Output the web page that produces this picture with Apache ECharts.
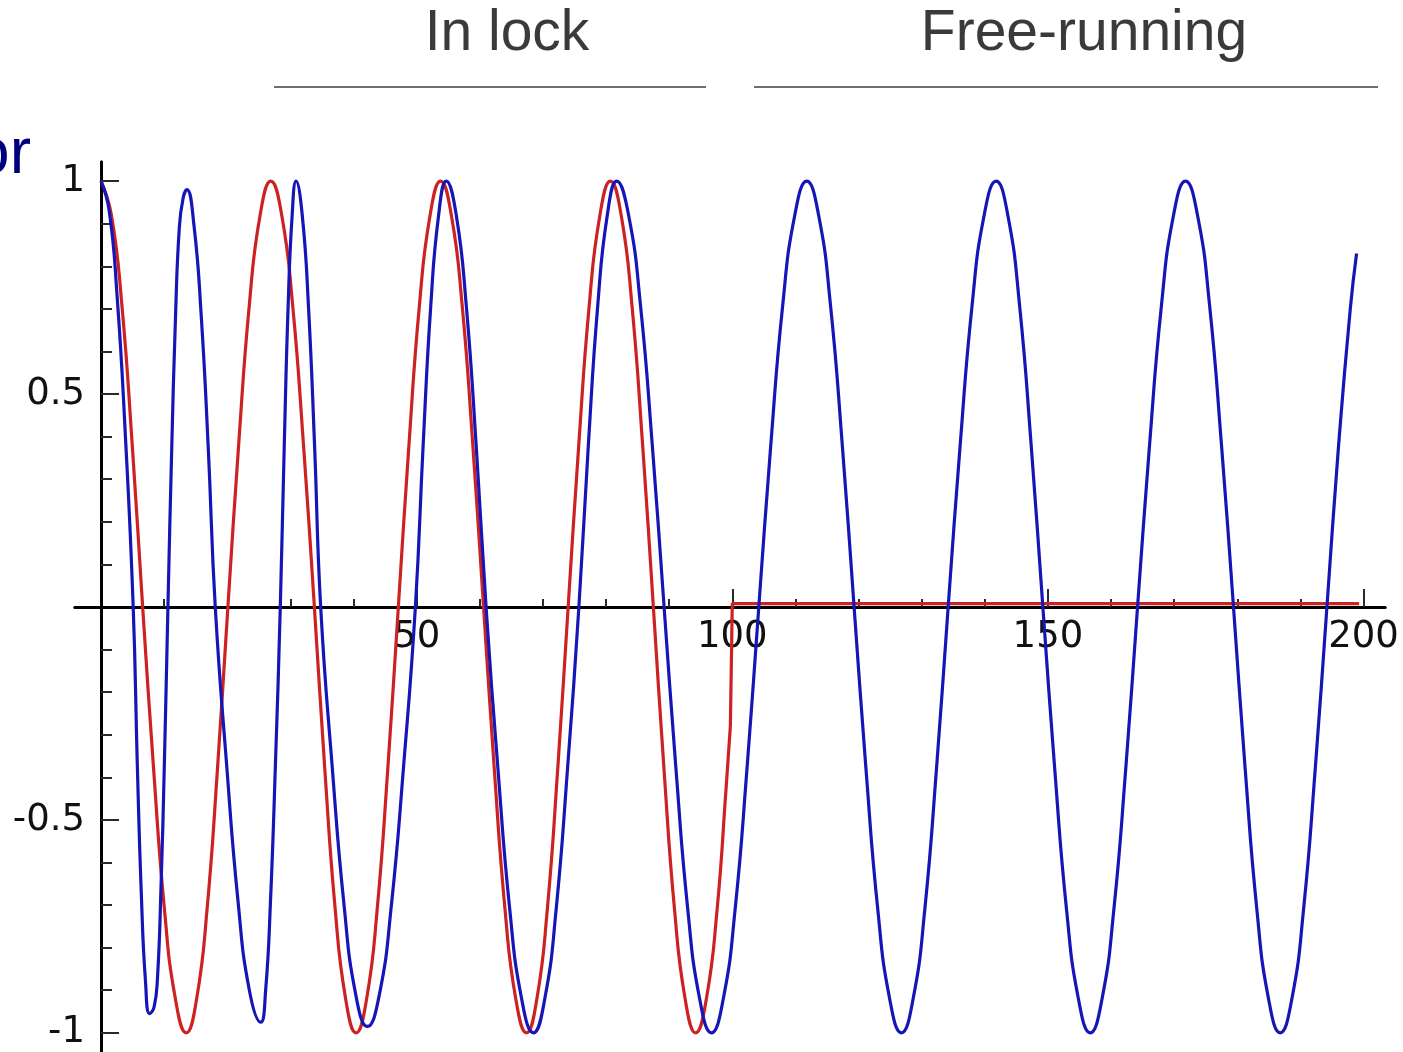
<!DOCTYPE html>
<html>
<head>
<meta charset="utf-8">
<script src="https://cdn.jsdelivr.net/npm/echarts@6/dist/echarts.min.js"></script>
<style>
  html, body { margin: 0; padding: 0; background: #ffffff; }
  #chart { width: 1403px; height: 1052px; }
</style>
</head>
<body>
<div id="chart"></div>
<script>
// Reference signal: oscillates while locked, then held at zero from t = 100
const referenceLocked = [
  [0, 1], [1.65, 0.92], [3.3, 0.71], [4.95, 0.38], [6.6, 0],
  [8.33, -0.38], [10.05, -0.71], [11.78, -0.92], [13.5, -1],
  [15.15, -0.92], [16.8, -0.71], [18.45, -0.38], [20.1, 0],
  [21.8, 0.38], [23.5, 0.71], [25.2, 0.92], [26.9, 1],
  [28.63, 0.92], [30.35, 0.71], [32.08, 0.38], [33.8, 0],
  [35.45, -0.38], [37.1, -0.71], [38.75, -0.92], [40.4, -1],
  [42.08, -0.92], [43.75, -0.71], [45.43, -0.38], [47.1, 0],
  [48.78, 0.38], [50.45, 0.71], [52.13, 0.92], [53.8, 1],
  [55.5, 0.92], [57.2, 0.71], [58.9, 0.38], [60.6, 0],
  [62.3, -0.38], [64.0, -0.71], [65.7, -0.92], [67.4, -1],
  [69.05, -0.92], [70.7, -0.71], [72.35, -0.38], [74.0, 0],
  [75.68, 0.38], [77.35, 0.71], [79.03, 0.92], [80.7, 1],
  [82.4, 0.92], [84.1, 0.71], [85.8, 0.38], [87.5, 0],
  [89.18, -0.38], [90.85, -0.71], [92.53, -0.92], [94.2, -1],
  [95.9, -0.92], [97.6, -0.71], [99.0, -0.43], [99.7, -0.28]
];
const referenceOff = [[99.7, -0.28], [100, 0.008], [199.3, 0.008]];

// Oscillator output: pulled into lock, then running at its own frequency
const oscillatorOutput = [
  [0, 1], [1.3, 0.93], [2.55, 0.73], [3.8, 0.42], [5.1, 0],
  [5.75, -0.37], [6.4, -0.68], [7.05, -0.88], [7.7, -0.955], [8.4, -0.94],
  [8.95, -0.87], [9.5, -0.66], [10.05, -0.36], [10.6, 0],
  [11.2, 0.37], [11.8, 0.68], [12.4, 0.89], [13.0, 0.96], [13.6, 0.98],
  [14.7, 0.9], [15.85, 0.69], [17.0, 0.37], [18.1, 0],
  [19.9, -0.37], [21.7, -0.69], [23.5, -0.9], [25.3, -0.975],
  [26.08, -0.9], [26.85, -0.69], [27.63, -0.37], [28.4, 0],
  [29.03, 0.38], [29.65, 0.71], [30.28, 0.92], [30.9, 1.0],
  [31.88, 0.92], [32.85, 0.71], [33.83, 0.38], [34.8, 0],
  [36.65, -0.38], [38.5, -0.7], [40.35, -0.91], [42.2, -0.985],
  [44.1, -0.91], [46.0, -0.7], [47.9, -0.38], [49.8, 0],
  [51.03, 0.38], [52.25, 0.71], [53.48, 0.92], [54.7, 1],
  [56.28, 0.92], [57.85, 0.71], [59.43, 0.38], [61.0, 0],
  [62.88, -0.38], [64.75, -0.71], [66.63, -0.92], [68.5, -1],
  [70.3, -0.92], [72.1, -0.71], [73.9, -0.38], [75.7, 0],
  [77.2, 0.38], [78.7, 0.71], [80.2, 0.92], [81.7, 1],
  [83.58, 0.92], [85.45, 0.71], [87.33, 0.38], [89.2, 0],
  [91.08, -0.38], [92.95, -0.71], [94.83, -0.92], [96.7, -1],
  [98.58, -0.92], [100.45, -0.71], [102.33, -0.38], [104.2, 0],
  [106.1, 0.38], [108.0, 0.71], [109.9, 0.92], [111.8, 1],
  [113.68, 0.92], [115.55, 0.71], [117.43, 0.38], [119.3, 0],
  [121.18, -0.38], [123.05, -0.71], [124.93, -0.92], [126.8, -1],
  [128.65, -0.92], [130.5, -0.71], [132.35, -0.38], [134.2, 0],
  [136.1, 0.38], [138.0, 0.71], [139.9, 0.92], [141.8, 1],
  [143.65, 0.92], [145.5, 0.71], [147.35, 0.38], [149.2, 0],
  [151.08, -0.38], [152.95, -0.71], [154.83, -0.92], [156.7, -1],
  [158.58, -0.92], [160.45, -0.71], [162.33, -0.38], [164.2, 0],
  [166.1, 0.38], [168.0, 0.71], [169.9, 0.92], [171.8, 1],
  [173.7, 0.92], [175.6, 0.71], [177.5, 0.38], [179.4, 0],
  [181.25, -0.38], [183.1, -0.71], [184.95, -0.92], [186.8, -1],
  [188.65, -0.92], [190.5, -0.71], [192.35, -0.38], [194.2, 0],
  [196.05, 0.38], [197.9, 0.7], [198.9, 0.83]
];

// Tick positions
const xMajorTicks = [50, 100, 150, 200];
const xMinorTicks = [10, 20, 30, 40, 60, 70, 80, 90, 110, 120, 130, 140, 160, 170, 180, 190];
const yMajorTicks = [-1, -0.5, 0.5, 1];
const yMinorTicks = [-0.9, -0.8, -0.7, -0.6, -0.4, -0.3, -0.2, -0.1, 0.1, 0.2, 0.3, 0.4, 0.6, 0.7, 0.8, 0.9];

// Section headings above the plot
const sectionTitles = ['In lock', 'Free-running'];
const cutLabel = 'or';

const RED = '#cc2222';
const BLUE = '#1515b8';
const AXIS_FONT = 'DejaVu Sans';
const HEAD_FONT = '"Liberation Sans", Arial, sans-serif';

// Plot area and value ranges; axes cross at the origin
const X_MIN = -4.12, X_MAX = 203.4;
const Y_MIN = -1.2, Y_MAX = 1.045;
const GRID = { left: 75, top: 162, width: 1310, height: 956 };

// Shift each axis from the grid edge onto the other axis's zero
const xAxisShift = -GRID.height * (0 - Y_MIN) / (Y_MAX - Y_MIN);
const yAxisShift = -GRID.width * (0 - X_MIN) / (X_MAX - X_MIN);

function xAxisDef(ticks, tickLen, withLabels) {
  return {
    type: 'value', position: 'bottom', offset: xAxisShift, min: X_MIN, max: X_MAX,
    axisLine: { show: true, onZero: false, lineStyle: { color: '#000', width: 3 } },
    axisTick: { show: true, inside: true, length: tickLen, customValues: ticks, lineStyle: { color: '#2a2a2a', width: 2 } },
    axisLabel: withLabels
      ? { show: true, customValues: ticks, margin: 12, fontFamily: AXIS_FONT, fontSize: 37, color: '#111' }
      : { show: false },
    splitLine: { show: false }
  };
}

function yAxisDef(ticks, tickLen, withLabels) {
  return {
    type: 'value', position: 'left', offset: yAxisShift, min: Y_MIN, max: Y_MAX,
    axisLine: { show: true, onZero: false, lineStyle: { color: '#000', width: 3 } },
    axisTick: { show: true, inside: true, length: tickLen, customValues: ticks, lineStyle: { color: '#2a2a2a', width: 2 } },
    axisLabel: withLabels
      ? { show: true, customValues: ticks, margin: 16, fontFamily: AXIS_FONT, fontSize: 37, color: '#111',
          formatter: function (v) { return String(v); } }
      : { show: false },
    splitLine: { show: false }
  };
}

function lineSeries(data, color, smooth) {
  return {
    type: 'line', data: data, smooth: smooth, showSymbol: false, symbol: 'none',
    lineStyle: { color: color, width: 3.2 }, emphasis: { disabled: true }, silent: true
  };
}

const chart = echarts.init(document.getElementById('chart'), null, { renderer: 'canvas' });

chart.setOption({
  animation: false,
  backgroundColor: '#ffffff',
  grid: {
    left: GRID.left, top: GRID.top, width: GRID.width, height: GRID.height,
    containLabel: false, outerBoundsMode: 'none'
  },
  xAxis: [xAxisDef(xMajorTicks, 18, true), xAxisDef(xMinorTicks, 8, false)],
  yAxis: [yAxisDef(yMajorTicks, 18, true), yAxisDef(yMinorTicks, 11, false)],
  series: [
    lineSeries(referenceLocked, RED, 0.5),
    lineSeries(referenceOff, RED, false),
    lineSeries(oscillatorOutput, BLUE, 0.5)
  ],
  graphic: [
    { type: 'text', x: 507, y: 34, silent: true,
      style: { text: sectionTitles[0], font: '57px ' + HEAD_FONT, fill: '#3a3a3a', align: 'center', verticalAlign: 'middle' } },
    { type: 'text', x: 1084, y: 34, silent: true,
      style: { text: sectionTitles[1], font: '57px ' + HEAD_FONT, fill: '#3a3a3a', align: 'center', verticalAlign: 'middle' } },
    { type: 'line', silent: true, shape: { x1: 274, y1: 87, x2: 706, y2: 87 },
      style: { stroke: '#707070', lineWidth: 2 } },
    { type: 'line', silent: true, shape: { x1: 754, y1: 87, x2: 1378, y2: 87 },
      style: { stroke: '#707070', lineWidth: 2 } },
    { type: 'text', x: 31, y: 155, silent: true,
      style: { text: cutLabel, font: '64px ' + HEAD_FONT, fill: '#00007e', align: 'right', verticalAlign: 'middle' } }
  ]
});
</script>
</body>
</html>
